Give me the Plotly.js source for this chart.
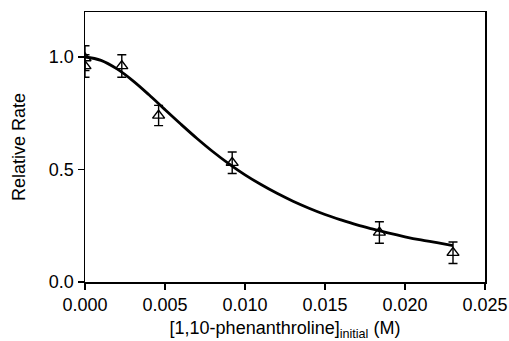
<!DOCTYPE html>
<html>
<head>
<meta charset="utf-8">
<script src="https://cdn.plot.ly/plotly-3.0.1.min.js"></script>
<style>html,body{margin:0;padding:0;background:#fff;}#chart{width:509px;height:341px;}</style>
</head>
<body>
<div id="chart"></div>
<script>
// Measured data points
const concX = [0, 0, 0.0023, 0.0046, 0.0092, 0.0184, 0.0230];
const rateY = [0.995, 0.96, 0.96, 0.74, 0.53, 0.22, 0.13];
const rateErr = [0.055, 0.05, 0.05, 0.045, 0.048, 0.048, 0.048];

// Fitted curve
const fitX = [0, 0.001, 0.002, 0.003, 0.004, 0.005, 0.006, 0.007, 0.008, 0.009, 0.010, 0.011,
              0.012, 0.013, 0.014, 0.015, 0.016, 0.017, 0.018, 0.019, 0.020, 0.021, 0.022, 0.023];
const fitY = [1.000, 0.985, 0.947, 0.894, 0.832, 0.766, 0.701, 0.638, 0.579, 0.525, 0.476, 0.433,
              0.394, 0.359, 0.328, 0.300, 0.276, 0.254, 0.235, 0.217, 0.201, 0.187, 0.175, 0.162];

const xTicks = [0, 0.005, 0.010, 0.015, 0.020, 0.025];
const yTicks = [0, 0.5, 1.0];

const font = {family: 'Arial, "Liberation Sans", sans-serif', color: '#000'};

const traces = [
  {
    x: fitX, y: fitY, mode: 'lines', type: 'scatter',
    line: {color: '#000', width: 2.8, shape: 'spline'},
    hoverinfo: 'skip', showlegend: false
  },
  {
    x: concX, y: rateY, mode: 'markers', type: 'scatter',
    marker: {symbol: 'triangle-up-open', size: 10.5, color: '#000', line: {width: 1.4, color: '#000'}},
    error_y: {type: 'data', array: rateErr, visible: true, color: '#000', thickness: 1.4, width: 4.5},
    showlegend: false
  }
];

const layout = {
  width: 509, height: 341,
  margin: {l: 85, r: 24, t: 12, b: 59},
  paper_bgcolor: '#fff', plot_bgcolor: '#fff',
  font: Object.assign({size: 18}, font),
  xaxis: {
    range: [0, 0.025], tickvals: xTicks, tickformat: '.3f',
    showline: true, linecolor: '#000', linewidth: 1.5, mirror: true,
    ticks: 'outside', ticklen: 6, tickwidth: 1.5, tickcolor: '#000',
    showgrid: false, zeroline: false,
    tickfont: Object.assign({size: 18}, font),
    title: {text: '[1,10-phenanthroline]<sub>initial</sub> (M)', font: Object.assign({size: 18}, font), standoff: 15}
  },
  yaxis: {
    range: [0, 1.2], tickvals: yTicks, tickformat: '.1f',
    showline: true, linecolor: '#000', linewidth: 1.5, mirror: true,
    ticks: 'outside', ticklen: 6, tickwidth: 1.5, tickcolor: '#000',
    showgrid: false, zeroline: false,
    tickfont: Object.assign({size: 18}, font),
    title: {text: 'Relative Rate', font: Object.assign({size: 18}, font), standoff: 18}
  }
};

Plotly.newPlot('chart', traces, layout, {displayModeBar: false, staticPlot: true});
</script>
</body>
</html>
